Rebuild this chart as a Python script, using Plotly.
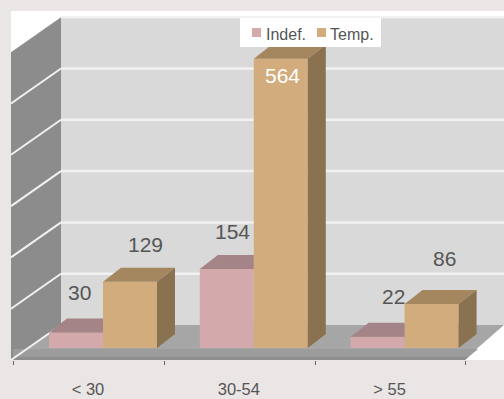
import plotly.graph_objects as go

categories = ["< 30", "30-54", "> 55"]
series_names = ["Indef.", "Temp."]
indef = [30, 154, 22]
temp = [129, 564, 86]
grid_values = [0, 100, 200, 300, 400, 500, 600]

W, H = 504, 399
PLOT_H = 360
BASE_Y = 348
PX_PER_UNIT = 0.513
CAT0_X = 103
CAT_STEP = 150.8
BAR_W = 54
DEPTH_X, DEPTH_Y = 18, 14     # bar depth
WALL_X, WALL_Y = 42, 23       # bar base to back wall
FLOOR_FRONT_Y = 359

def dx(px):
    return px / CAT_STEP
def dy(px):
    return px / PX_PER_UNIT
def X(px):
    return (px - CAT0_X) / CAT_STEP
def Y(py):
    return (BASE_Y - py) / PX_PER_UNIT

def path(points):
    return "M " + " L ".join(f"{X(a):.5f} {Y(b):.3f}" for a, b in points) + " Z"

INK = "#555555"
PINK, PINK_TOP = "#d4a9ab", "#a58487"
TAN, TAN_TOP, TAN_SIDE = "#d2ac7d", "#a4865f", "#8a7250"

fig = go.Figure()
w = dx(BAR_W)
xs = list(range(len(categories)))
fig.add_bar(name=series_names[0], x=xs, y=indef, width=w, offset=-w, marker=dict(color=PINK, line_width=0), showlegend=False)
fig.add_bar(name=series_names[1], x=xs, y=temp, width=w, offset=0, marker=dict(color=TAN, line_width=0), showlegend=False)

def face(x_pts, y_pts, color):
    fig.add_scatter(x=x_pts, y=y_pts, mode="lines", fill="toself", fillcolor=color,
                    line=dict(width=0, color=color), hoverinfo="skip", showlegend=False)

ddx, ddy = dx(DEPTH_X), dy(DEPTH_Y)
for i in xs:
    # pink top, running behind the taller tan bar
    v = indef[i]
    face([i - w, i - w + ddx, i, i, i - w], [v, v + ddy, v + ddy, v, v], PINK_TOP)
    # tan top and side
    v = temp[i]
    face([i, i + ddx, i + w + ddx, i + w, i], [v, v + ddy, v + ddy, v, v], TAN_TOP)
    face([i + w, i + w + ddx, i + w + ddx, i + w, i + w], [0, ddy, v + ddy, v, 0], TAN_SIDE)

shapes = []
def add(d, fill, layer="below"):
    shapes.append(dict(type="path", path=d, fillcolor=fill, line=dict(width=0), layer=layer,
                       xref="x", yref="y"))

back_l = 61
back_bottom = BASE_Y - WALL_Y
back_top = back_bottom - max(grid_values) * PX_PER_UNIT
side_l = 11
front_l = 13
front_r = 465
add(path([(side_l, 11), (W, 11), (W, PLOT_H), (side_l, PLOT_H)]), "#ffffff")
add(path([(back_l, back_top), (W, back_top), (W, back_bottom), (back_l, back_bottom)]), "#d9d9d9")
add(path([(side_l, back_top + 35), (back_l, back_top), (back_l, back_bottom), (side_l, back_bottom + 35)]), "#8c8c8c")
add(path([(front_l, FLOOR_FRONT_Y), (back_l, back_bottom), (W, back_bottom), (front_r, FLOOR_FRONT_Y)]), "#a6a6a6")
add(path([(front_l, 349), (front_r + 13, 349), (front_r, PLOT_H), (front_l, PLOT_H)]), "#9c9c9c")
add(path([(front_l, 357), (front_r + 3, 357), (front_r, PLOT_H), (front_l, PLOT_H)]), "#8e8e8e")

for g in grid_values:
    yy = Y(back_bottom - g * PX_PER_UNIT)
    yy_front = Y(back_bottom - g * PX_PER_UNIT + 35)
    if g:
        shapes.append(dict(type="line", x0=X(back_l), x1=X(W), y0=yy, y1=yy, layer="below",
                           line=dict(color="#f1f1f1", width=2.5)))
    if g != max(grid_values):
        shapes.append(dict(type="line", x0=X(back_l), x1=X(side_l), y0=yy, y1=yy_front, layer="below",
                           line=dict(color="#f1f1f1", width=2)))

label_shift_x = {0: [3, 6, 16], 1: [15, 2, 13]}
label_shift_y = {0: [40, 38, 40], 1: [37, -17, 45]}
annotations = []
for s, vals in enumerate([indef, temp]):
    for i, v in enumerate(vals):
        center = i + (w / 2 if s else -w / 2)
        inside = v == max(temp)
        annotations.append(dict(x=center, y=v, text=str(v), showarrow=False, xanchor="center", yanchor="middle",
                                xshift=label_shift_x[s][i], yshift=label_shift_y[s][i],
                                font=dict(size=21, color="#ffffff" if inside else INK)))

# compact legend box
add(path([(240, 18), (381, 18), (381, 47), (240, 47)]), "#ffffff", layer="above")
for name, color, sw, tx in zip(series_names, [PINK, TAN], [252, 317], [265, 329]):
    add(path([(sw, 28), (sw + 9, 28), (sw + 9, 37), (sw, 37)]), color, layer="above")
    annotations.append(dict(x=X(tx), y=Y(34), text=name, showarrow=False, xanchor="left", yanchor="middle",
                            xshift=-1, font=dict(size=16, color=INK)))

fig.update_layout(
    width=W, height=H, margin=dict(l=0, r=0, t=0, b=H - PLOT_H, pad=0),
    paper_bgcolor="#ebe6e6", plot_bgcolor="#ebe6e6",
    font=dict(family="Liberation Sans, Helvetica, Arial, sans-serif", color=INK),
    barmode="overlay", shapes=shapes, annotations=annotations, showlegend=False,
    xaxis=dict(range=[X(0), X(W)], tickvals=[i + X(CAT0_X - 15) for i in xs], ticktext=categories,
               automargin=False,
               ticks="outside", ticklen=14, tickcolor="rgba(0,0,0,0)", tickfont=dict(size=16.5, color=INK),
               showgrid=False, zeroline=False, showline=False,
               minor=dict(tick0=X(13.5), dtick=1, ticks="outside", ticklen=4, tickcolor="#666666", showgrid=False)),
    yaxis=dict(range=[Y(PLOT_H), Y(0)], visible=False, showgrid=False, zeroline=False, automargin=False),
)
fig.write_html("out.html", config=dict(displayModeBar=False), post_script="document.body.style.margin='0';")
